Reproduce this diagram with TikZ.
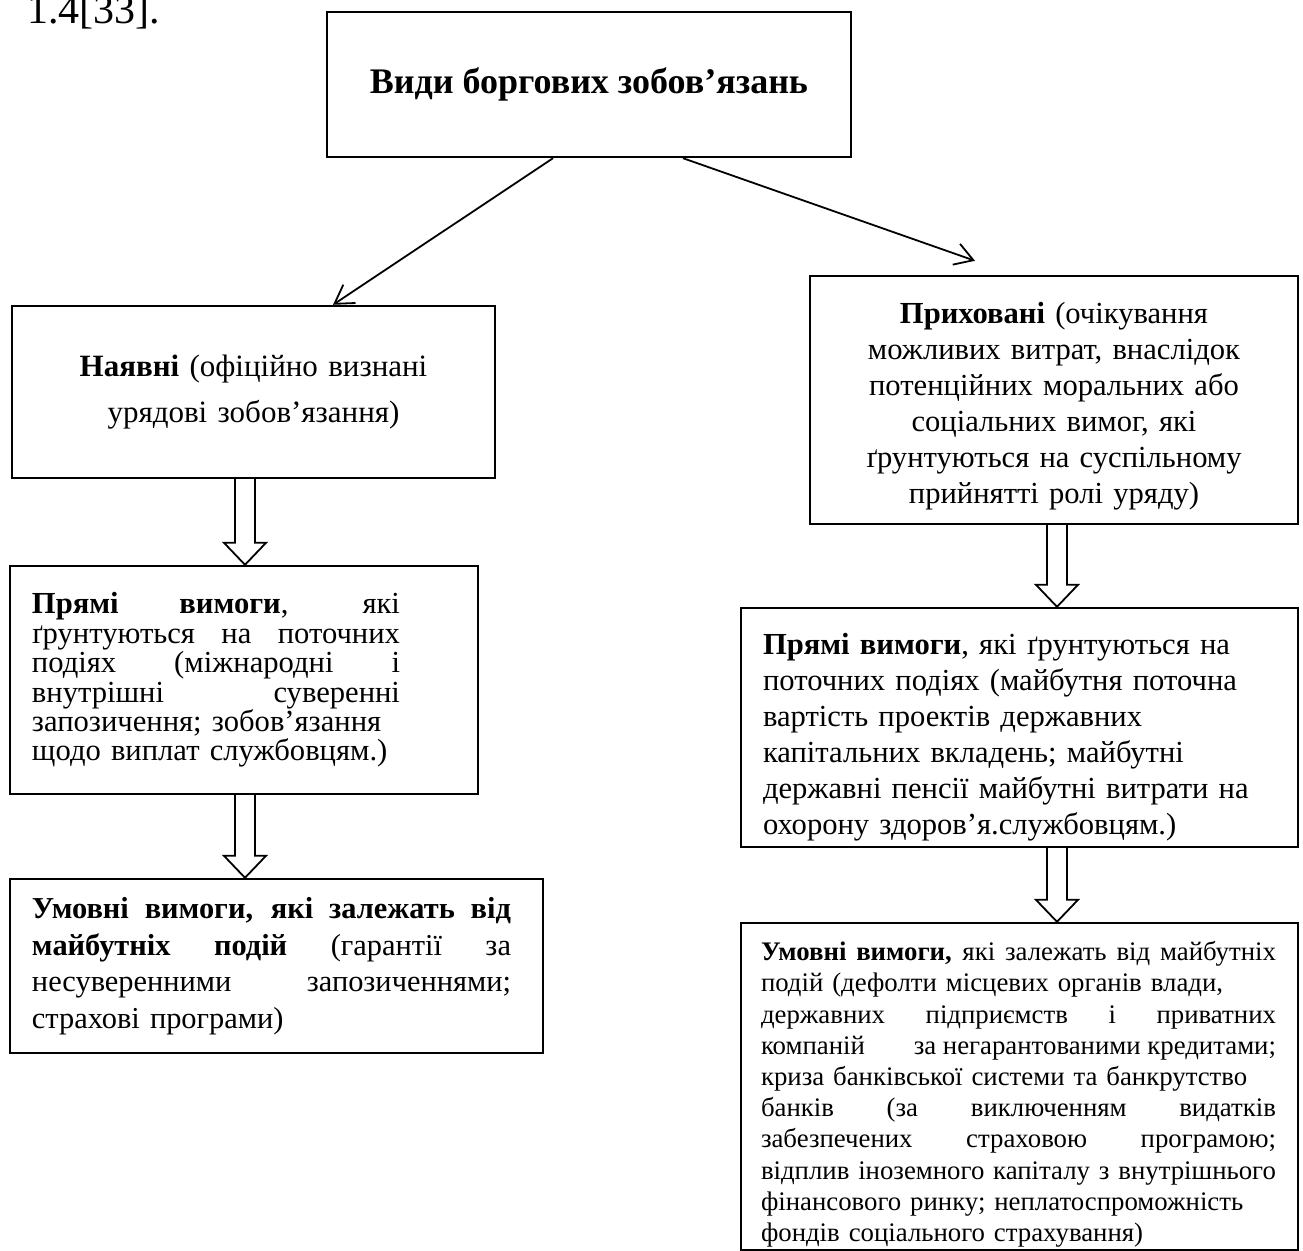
\documentclass[tikz,border=0pt]{standalone}
\usepackage{fontspec}
\setmainfont{Liberation Serif}
\usetikzlibrary{arrows.meta,calc}

% one justified line of a given width
\newcommand{\spread}[2]{\makebox[#1][s]{\spaceskip=0pt\xspaceskip=0pt #2}}
% hollow block arrow from the bottom of #1 to the top of #2, at x = #3
\newcommand{\hollowdown}[3]{%
  \draw[hollow] let \p1=(#1.south), \p2=(#2.north) in
    (#3-10,\y1) -- (#3-10,\y2+11) -- (#3-21,\y2+11) -- (#3,\y2)
    -- (#3+21,\y2+11) -- (#3+10,\y2+11) -- (#3+10,\y1);}

\begin{document}
\begin{tikzpicture}[x=0.5pt,y=-0.5pt,
    box/.style={draw,line width=1.2pt,inner sep=0pt},
    link/.style={line width=0.9pt,-{Straight Barb[length=9pt,width=11pt]}},
    hollow/.style={line width=0.9pt}]
	\useasboundingbox (0,0) rectangle (1303,1251);
	\node[anchor=base west,font=\fontsize{21}{24}\selectfont] (ref) at (20,24) {1.4[33].};
	\node[box,minimum width=262pt,minimum height=72.5pt,font=\fontsize{18}{21}\selectfont\bfseries] (title) at (589,84.5) {Види боргових зобов’язань};
	\node[box,minimum width=241.5pt,minimum height=86pt,text width=225pt,align=center,font=\fontsize{15.5}{23.3}\selectfont] (nayavni) at (253.5,392)
		{\textbf{Наявні} (офіційно визнані\\урядові зобов’язання)};
	\node[box,minimum width=244pt,minimum height=124pt,text width=232pt,align=center,text height=16.5pt,font=\fontsize{15.3}{18}\selectfont] (prykhovani) at (1054,400)
		{\textbf{Приховані} (очікування\\можливих витрат, внаслідок\\потенційних моральних або\\соціальних вимог, які\\ґрунтуються на суспільному\\прийнятті ролі уряду)};
	\node[box,minimum width=234pt,minimum height=114pt,text width=212pt,align=left,font=\fontsize{15.3}{14.7}\selectfont] (pryamiL) at (244,680)
		{\spread{184pt}{\textbf{Прямі} \textbf{вимоги}, які}\\
		 \spread{184pt}{ґрунтуються на поточних}\\
		 \spread{184pt}{подіях (міжнародні і}\\
		 \spread{184pt}{внутрішні суверенні}\\
		 запозичення; зобов’язання\\
		 щодо виплат службовцям.)};
	\node[box,minimum width=278.5pt,minimum height=119.5pt,text width=256.5pt,align=left,text height=20.5pt,font=\fontsize{15.3}{18}\selectfont] (pryamiR) at (1019.5,727.5)
		{\textbf{Прямі вимоги}, які ґрунтуються на\\
		 поточних подіях (майбутня поточна\\
		 вартість проектів державних\\
		 капітальних вкладень; майбутні\\
		 державні пенсії майбутні витрати на\\
		 охорону здоров’я.службовцям.)};
	\node[box,minimum width=266.5pt,minimum height=87pt,text width=244.5pt,align=left,font=\fontsize{15.2}{18.3}\selectfont] (umovniL) at (276.5,966)
		{\spread{239.5pt}{\textbf{Умовні вимоги, які залежать від}}\\
		 \spread{239.5pt}{\textbf{майбутніх подій} (гарантії за}\\
		 \spread{239.5pt}{несуверенними запозиченнями;}\\
		 страхові програми)};
	\node[box,minimum width=278.5pt,minimum height=163.5pt,text width=258.5pt,align=left,text height=17.5pt,font=\fontsize{13.4}{15.6}\selectfont] (umovniR) at (1019.5,1086.5)
		{\spread{257.5pt}{\textbf{Умовні вимоги,} які залежать від майбутніх}\\
		 подій (дефолти місцевих органів влади,\\
		 \spread{257.5pt}{державних підприємств і приватних}\\
		 \spread{257.5pt}{компаній\hfill\ за негарантованими кредитами;}\\
		 криза банківської системи та банкрутство\\
		 \spread{257.5pt}{банків (за виключенням видатків}\\
		 \spread{257.5pt}{забезпечених страховою програмою;}\\
		 \spread{257.5pt}{відплив іноземного капіталу з внутрішнього}\\
		 фінансового ринку; неплатоспроможність\\
		 фондів соціального страхування)};
	\draw[link] ([xshift=-18pt]title.south) -- ([xshift=39.75pt]nayavni.north);
	\draw[link] ([xshift=47pt]title.south) -- ([xshift=-39.5pt,yshift=7pt]prykhovani.north);
	\hollowdown{nayavni}{pryamiL}{245}
	\hollowdown{pryamiL}{umovniL}{245}
	\hollowdown{prykhovani}{pryamiR}{1057}
	\hollowdown{pryamiR}{umovniR}{1057}
\end{tikzpicture}
\end{document}
